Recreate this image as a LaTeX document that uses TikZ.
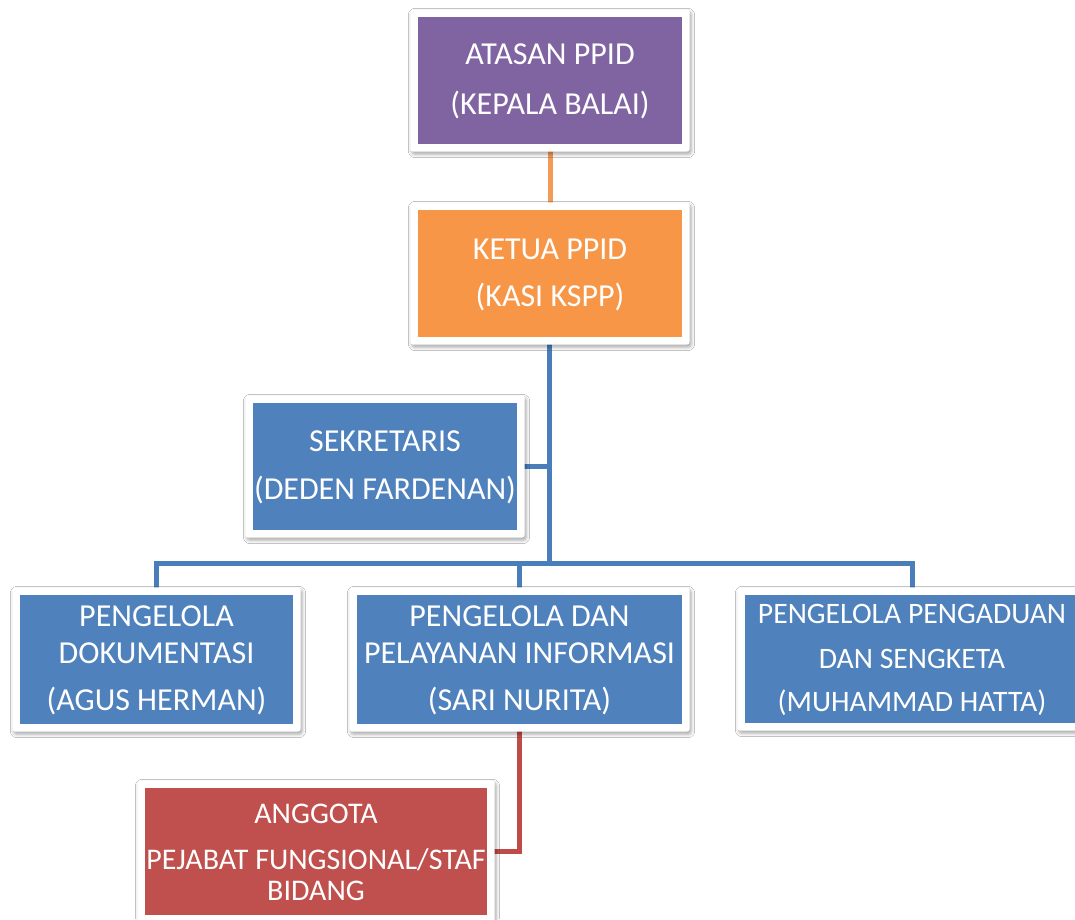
\documentclass[tikz,border=0pt]{standalone}
\usepackage{fontspec}
\setmainfont{Carlito}
\usetikzlibrary{shadows.blur,backgrounds,calc}
\definecolor{cpurple}{HTML}{8064A2}
\definecolor{corange}{HTML}{F79646}
\definecolor{cblue}{HTML}{4F81BD}
\definecolor{cred}{HTML}{C0504D}
\definecolor{lorange}{HTML}{F59A56}
\definecolor{lblue}{HTML}{4A7EBB}
\definecolor{lred}{HTML}{BE4B48}
\newcommand\lnstrut{\vphantom{(}}
\tikzset{
  orgbox/.style={fill=#1, text=white, align=center, inner sep=0pt,
    font=\fontsize{32}{37}\selectfont},
  smaller/.style={font=\fontsize{#1}{36}\selectfont},
  frame/.style={fill=white, draw=none, rounded corners=3pt,
    blur shadow={shadow xshift=1.5pt, shadow yshift=-2.5pt, shadow blur radius=3.5pt, shadow opacity=35}},
  conn/.style={line width=5pt, draw=#1},
}
\begin{document}
\begin{tikzpicture}[x=1pt,y=-1pt]
\useasboundingbox (0,0) rectangle (1075,919);
\node[orgbox=cpurple, minimum width=264pt, minimum height=127pt] (atasan) at (550,80.5)
  {\lnstrut ATASAN PPID\\[13pt](KEPALA BALAI)};
\node[orgbox=corange, minimum width=264pt, minimum height=127pt] (ketua) at (550,273.5)
  {\lnstrut KETUA PPID\\[10pt](KASI KSPP)};
\node[orgbox=cblue, minimum width=264pt, minimum height=127pt] (sek) at (385,466.5)
  {\lnstrut SEKRETARIS\\[11pt](DEDEN FARDENAN)};
\node[orgbox=cblue, minimum width=273pt, minimum height=129pt] (dok) at (156.5,659.5)
  {\lnstrut PENGELOLA\\[-0.5pt]DOKUMENTASI\\[10.5pt](AGUS HERMAN)};
\node[orgbox=cblue, minimum width=325pt, minimum height=129pt] (inf) at (519.5,659.5)
  {\lnstrut PENGELOLA DAN\\[-0.5pt]PELAYANAN INFORMASI\\[10.5pt](SARI NURITA)};
\node[orgbox=cblue, smaller=29.7, minimum width=334pt, minimum height=128pt] (adu) at (912,659)
  {\lnstrut PENGELOLA PENGADUAN\\[9pt]DAN SENGKETA\\[7pt](MUHAMMAD HATTA)};
\node[orgbox=cred, smaller=30, minimum width=342pt, minimum height=127pt] (ang) at (316,851.5)
  {\lnstrut ANGGOTA\\[9.5pt]PEJABAT FUNGSIONAL/STAF\\[-4.5pt]BIDANG};
\coordinate (bar) at (549,563);
\begin{scope}[on background layer]
  \fill[white] (0,0) rectangle (1075,919);
  \draw[conn=lorange] (atasan.south) -- (ketua.north);
  \draw[conn=lblue] (ketua.south -| bar) -- (bar);
  \draw[conn=lblue] (sek.east) -- (sek.east -| bar);
  \draw[conn=lblue] (dok.north) |- (bar) -| (adu.north);
  \draw[conn=lblue] (inf.north) -- (inf.north |- bar);
  \draw[conn=lred] (inf.south) |- (ang.east);
  \foreach \n in {atasan,ketua,sek,dok,inf,adu,ang}
    \path[frame] ($(\n.south west)+(-7.5,7.5)$) rectangle ($(\n.north east)+(7.5,-7.5)$);
\end{scope}
\end{tikzpicture}
\end{document}
